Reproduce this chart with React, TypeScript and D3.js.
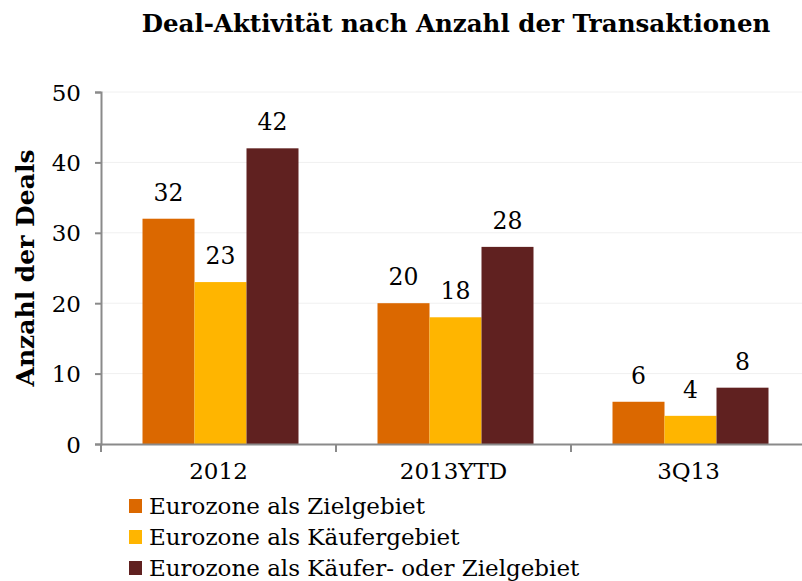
import React, { useEffect, useRef } from 'react'
import * as d3 from 'd3'

// chart data
const categories = ['2012', '2013YTD', '3Q13']
const seriesNames = [
  'Eurozone als Zielgebiet',
  'Eurozone als Käufergebiet',
  'Eurozone als Käufer- oder Zielgebiet',
]
const zielValues = [32, 20, 6]
const kaeuferValues = [23, 18, 4]
const beideValues = [42, 28, 8]
const yTicks = [0, 10, 20, 30, 40, 50]
const colors = ['#DB6800', '#FFB500', '#602120']

const W = 802
const H = 581
const FONT = '"DejaVu Serif", "Liberation Serif", serif'

const App = () => {
  const ref = useRef<HTMLDivElement>(null)

  useEffect(() => {
    const el = ref.current
    if (!el) return
    d3.select(el).select('svg').remove()

    const svg = d3.select(el)
      .append('svg')
      .attr('width', W)
      .attr('height', H)
      .style('position', 'absolute')
      .style('left', 0)
      .style('top', 0)
      .style('font-family', FONT)

    const x = d3.scaleBand().domain(categories).range([101, 806])
    const y = d3.scaleLinear().domain([0, 50]).range([444, 92])
    const inner = d3.scaleBand()
      .domain(seriesNames)
      .range([0, 156])
    const offset = (x.bandwidth() - 156) / 2 + 2

    // title
    svg.append('text')
      .attr('x', 456)
      .attr('y', 32)
      .attr('text-anchor', 'middle')
      .attr('font-size', 24.5)
      .attr('font-weight', 'bold')
      .text('Deal-Aktivität nach Anzahl der Transaktionen')

    // faint grid lines
    svg.append('g')
      .selectAll('line')
      .data(yTicks.slice(1))
      .enter()
      .append('line')
      .attr('x1', 101)
      .attr('x2', 806)
      .attr('y1', (d) => y(d))
      .attr('y2', (d) => y(d))
      .attr('stroke', '#f0f0f0')
      .attr('stroke-width', 1)

    // y axis
    const yAxis = svg.append('g')
      .attr('transform', 'translate(101,0)')
      .call(d3.axisLeft(y).tickValues(yTicks).tickSize(6).tickPadding(14))
    yAxis.select('.domain').attr('stroke', '#8a8a8a').attr('stroke-width', 2)
    yAxis.selectAll('.tick line').attr('stroke', '#8a8a8a').attr('stroke-width', 2)
    yAxis.selectAll('.tick text')
      .attr('font-size', 23)
      .attr('font-family', FONT)
      .attr('fill', '#000')
      .attr('dy', '0.35em')

    // y axis title
    svg.append('text')
      .attr('transform', 'translate(34,268) rotate(-90)')
      .attr('text-anchor', 'middle')
      .attr('font-size', 25)
      .attr('font-weight', 'bold')
      .text('Anzahl der Deals')

    // bars
    const seriesValues = [zielValues, kaeuferValues, beideValues]
    seriesValues.forEach((vals, si) => {
      const g = svg.append('g')
      const rows = categories.map((c, i) => ({ c, v: vals[i] }))
      g.selectAll('rect')
        .data(rows)
        .enter()
        .append('rect')
        .attr('x', (d) => x(d.c) + offset + inner(seriesNames[si]))
        .attr('y', (d) => y(d.v))
        .attr('width', inner.bandwidth())
        .attr('height', (d) => y(0) - y(d.v))
        .attr('fill', colors[si])
      g.selectAll('text')
        .data(rows)
        .enter()
        .append('text')
        .attr('x', (d) => x(d.c) + offset + inner(seriesNames[si]) + inner.bandwidth() / 2)
        .attr('y', (d) => y(d.v) - 18)
        .attr('text-anchor', 'middle')
        .attr('font-size', 23.5)
        .text((d) => d.v)
    })

    // x axis
    const xAxis = svg.append('g')
      .attr('transform', 'translate(0,444)')
      .call(d3.axisBottom(x).tickSize(0).tickPadding(19))
    xAxis.select('.domain').attr('stroke', '#8a8a8a').attr('stroke-width', 2)
    xAxis.selectAll('.tick text')
      .attr('font-size', 23)
      .attr('font-family', FONT)
      .attr('fill', '#000')
    // category separators
    svg.append('g')
      .selectAll('line')
      .data(categories)
      .enter()
      .append('line')
      .attr('x1', (d) => x(d))
      .attr('x2', (d) => x(d))
      .attr('y1', 444)
      .attr('y2', 452)
      .attr('stroke', '#8a8a8a')
      .attr('stroke-width', 2)

    // legend
    const legend = svg.append('g')
      .selectAll('g')
      .data(seriesNames)
      .enter()
      .append('g')
      .attr('transform', (d, i) => `translate(129, ${506 + i * 31})`)
    legend.append('rect')
      .attr('x', 0)
      .attr('y', -7)
      .attr('width', 13)
      .attr('height', 14)
      .attr('fill', (d, i) => colors[i])
    legend.append('text')
      .attr('x', 20)
      .attr('y', 0)
      .attr('dy', '0.35em')
      .attr('font-size', 23)
      .text((d) => d)
  }, [])

  return <div ref={ref}></div>
}

export default App
